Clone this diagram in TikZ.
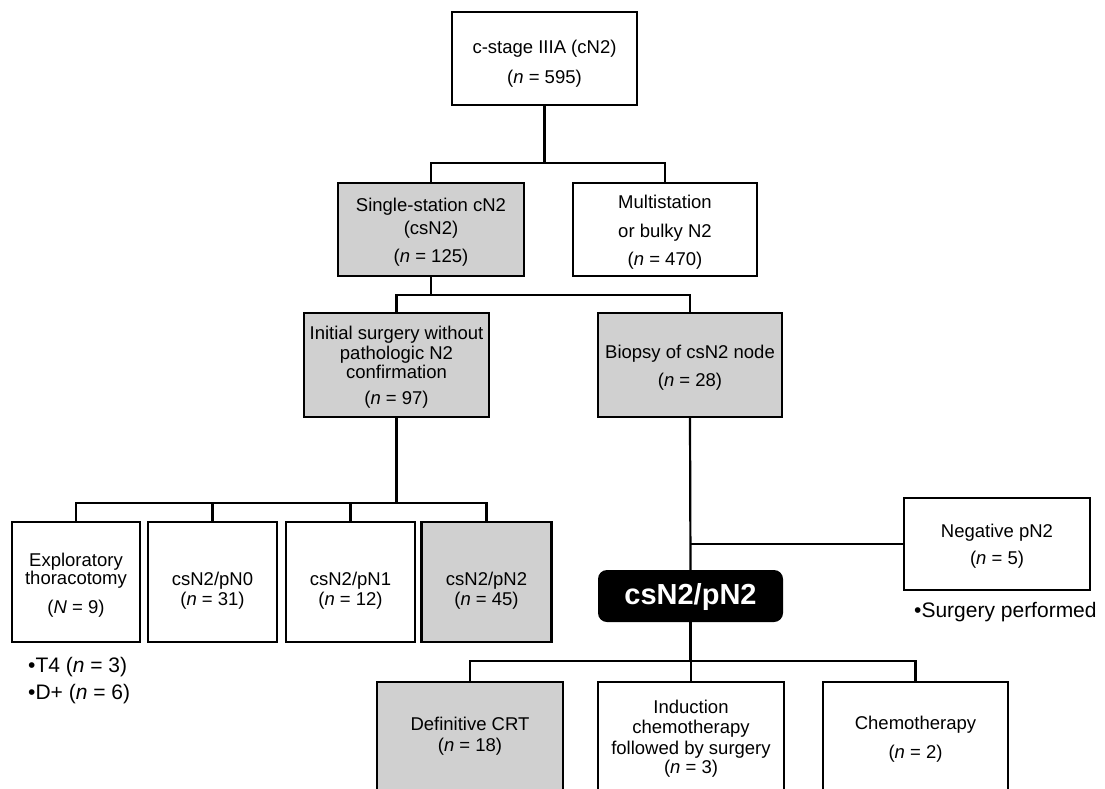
\documentclass[tikz,border=0pt]{standalone}
\usepackage{fontspec}
\setmainfont{Liberation Sans}
\definecolor{boxgray}{RGB}{208,208,208}
\tikzset{
  wbox/.style={draw=black, line width=2.3pt, fill=white, inner sep=0pt},
  gbox/.style={draw=black, line width=2.3pt, fill=boxgray, inner sep=0pt},
  blkbox/.style={fill=black, rounded corners=9pt, inner sep=0pt, minimum width=185pt, minimum height=52pt},
  txt/.style={align=center, inner sep=0pt, font=\fontsize{18.5}{20}\selectfont},
  bigtxt/.style={inner sep=0pt, text=white, font=\fontsize{29}{32}\selectfont\bfseries},
  note/.style={inner sep=0pt, anchor=west, font=\fontsize{21}{23}\selectfont},
  conn/.style={line width=2.2pt}
}
\begin{document}
\begin{tikzpicture}[x=1pt, y=-1pt]
\useasboundingbox (0,0) rectangle (1105,789);
\fill[white] (0,0) rectangle (1105,789);

% level 0
\node[wbox, minimum width=185pt, minimum height=93pt] (top) at (544.5,58.5) {};
\node[txt] (top-t) at (544.5,64) {c-stage IIIA (cN2)\\[10pt](\textit{n} = 595)};

% level 1
\node[gbox, minimum width=186pt, minimum height=93pt] (ss) at (431,229.5) {};
\node[txt] (ss-t) at (431,232.5) {Single-station cN2\\[3pt](csN2)\\[8pt](\textit{n} = 125)};
\node[wbox, minimum width=184pt, minimum height=93pt] (ms) at (665,229.5) {};
\node[txt] (ms-t) at (665,232.5) {Multistation\\[9pt]or bulky N2\\[8pt](\textit{n} = 470)};

% level 2
\node[gbox, minimum width=185pt, minimum height=104pt] (init) at (396.5,365) {};
\node[txt] (init-t) at (396.5,367.5) {Initial surgery without\\pathologic N2\\[-1pt]confirmation\\[6pt](\textit{n} = 97)};
\node[gbox, minimum width=184pt, minimum height=104pt] (bio) at (690,365) {};
\node[txt] (bio-t) at (690,368) {Biopsy of csN2 node\\[8pt](\textit{n} = 28)};

% level 3 (left)
\node[wbox, minimum width=128pt, minimum height=120pt] (expl) at (76,582) {};
\node[txt] (expl-t) at (76,585.5) {Exploratory\\[-2pt]thoracotomy\\[9pt](\textit{N} = 9)};
\node[wbox, minimum width=129pt, minimum height=120pt] (pn0) at (212.5,582) {};
\node[txt] (pn0-t) at (212.5,591) {csN2/pN0\\(\textit{n} = 31)};
\node[wbox, minimum width=129pt, minimum height=120pt] (pn1) at (350.5,582) {};
\node[txt] (pn1-t) at (350.5,591) {csN2/pN1\\(\textit{n} = 12)};
\node[gbox, minimum width=130pt, minimum height=120pt] (pn2) at (486.5,582) {};
\node[txt] (pn2-t) at (486.5,591) {csN2/pN2\\(\textit{n} = 45)};

\node[note] (t4) at (28,667) {\textbullet T4 (\textit{n} = 3)};
\node[note] (dplus) at (28,694) {\textbullet D+ (\textit{n} = 6)};

% right branch
\node[wbox, minimum width=186pt, minimum height=92pt] (neg) at (997,544) {};
\node[txt] (neg-t) at (997,546.5) {Negative pN2\\[7pt](\textit{n} = 5)};
\node[note] (surg) at (914,612) {\textbullet Surgery performed};

\node[blkbox] (main) at (690.5,596) {};
\node[bigtxt] (main-t) at (690.5,597) {csN2/pN2};

% bottom row (cut by the lower edge)
\begin{scope}
\clip (0,0) rectangle (1105,789);
\node[gbox, minimum width=186pt, minimum height=125pt, anchor=north] (def) at (470,681) {};
\node[wbox, minimum width=186pt, minimum height=125pt, anchor=north] (ind) at (691,681) {};
\node[wbox, minimum width=185pt, minimum height=125pt, anchor=north] (chemo) at (915.5,681) {};
\end{scope}
\node[txt] (def-t) at (470,736.5) {Definitive CRT\\[1pt](\textit{n} = 18)};
\node[txt] (ind-t) at (691,739) {Induction\\chemotherapy\\[1pt]followed by surgery\\[-1pt](\textit{n} = 3)};
\node[txt] (chemo-t) at (915.5,739.5) {Chemotherapy\\[9pt](\textit{n} = 2)};

% junctions
\coordinate (j1) at (544.5,163);
\coordinate (j2) at (431,295);
\coordinate (j3) at (396.5,503);
\coordinate (j4) at (690,544);
\coordinate (j5) at (690.5,661);

% connectors
\draw[conn] (top.south) -- (j1);
\draw[conn] (ss.north) |- (j1) -| (ms.north);
\draw[conn] (ss.south) -- (j2);
\draw[conn] (init.north) |- (j2) -| (bio.north);
\draw[conn] (init.south) -- (j3);
\draw[conn] (expl.north) |- (j3) -| (pn2.north);
\draw[conn] (pn0.north) -- (pn0.north |- j3);
\draw[conn] (pn1.north) -- (pn1.north |- j3);
\draw[conn] (bio.south) -- (main.north);
\draw[conn] (j4) -- (neg.west);
\draw[conn] (main.south) -- (j5);
\draw[conn] (def.north) |- (j5) -| (chemo.north);
\draw[conn] (ind.north) -- (ind.north |- j5);
\end{tikzpicture}
\end{document}
